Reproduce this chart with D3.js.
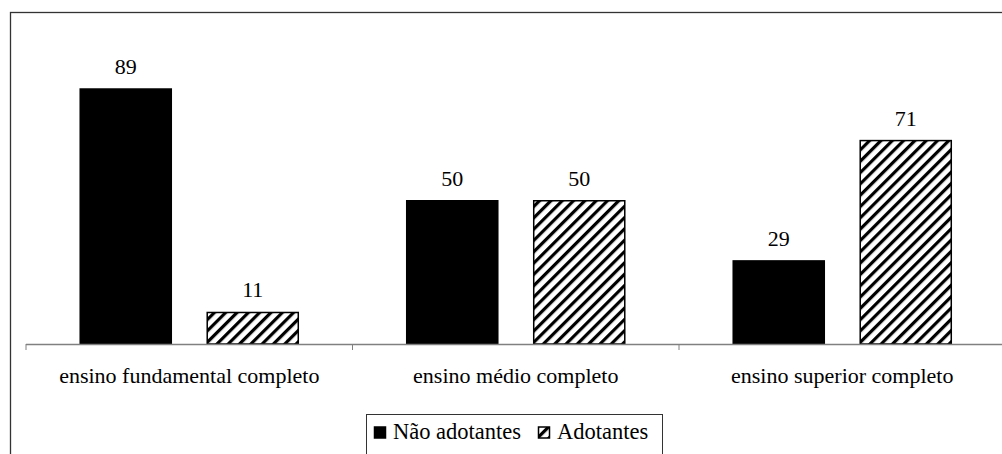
<!DOCTYPE html>
<html>
<head>
<meta charset="utf-8">
<script src="https://cdn.jsdelivr.net/npm/d3@7"></script>
<style>
  body { margin: 0; background: #fff; }
  svg { display: block; }
</style>
</head>
<body>
<div id="chart"></div>
<script>
    // data
    var categories = [ 'ensino fundamental completo', 'ensino médio completo', 'ensino superior completo' ];
    var seriesNames = [ 'Não adotantes', 'Adotantes' ];
    var naoAdotantes = [ 89, 50, 29 ];
    var adotantes = [ 11, 50, 71 ];

    var FONT = '"Liberation Serif"';

    var width = 1002, height = 454;
    var margin = { left: 26, right: -3.5, top: 57.5, bottom: 110 };
    var plotW = width - margin.left - margin.right,
        plotH = height - margin.top - margin.bottom;

    var svg = d3.select('#chart').append('svg')
        .attr('width', width)
        .attr('height', height);

    // hatch pattern
    var defs = svg.append('defs');
    var pat = defs.append('pattern')
        .attr('id', 'hatch')
        .attr('patternUnits', 'userSpaceOnUse')
        .attr('width', 8)
        .attr('height', 8)
        .attr('patternTransform', 'rotate(45)');
    pat.append('rect').attr('width', 8).attr('height', 8).attr('fill', '#fff');
    pat.append('rect').attr('x', 0).attr('width', 3.2).attr('height', 8).attr('fill', '#000');

    // outer frame
    svg.append('rect')
        .attr('x', 10.5).attr('y', 12.5)
        .attr('width', 1000).attr('height', 460)
        .attr('fill', 'none')
        .attr('stroke', '#333')
        .attr('stroke-width', 1.3);

    var g = svg.append('g')
        .attr('transform', 'translate(' + margin.left + ',' + margin.top + ')');

    var x0 = d3.scaleBand()
        .domain(categories)
        .range([0, plotW]);

    var x1 = d3.scaleBand()
        .domain(seriesNames)
        .range([0, x0.bandwidth()])
        .paddingInner(0.283)
        .paddingOuter(0.427);

    var y = d3.scaleLinear()
        .domain([0, 100])
        .range([plotH, 0]);

    var rows = categories.map(function(c, i) {
        return { cat: c, values: [
            { key: seriesNames[0], value: naoAdotantes[i] },
            { key: seriesNames[1], value: adotantes[i] }
        ] };
    });

    var groups = g.selectAll('.grp')
        .data(rows)
        .enter().append('g')
            .attr('class', 'grp')
            .attr('transform', function(d) { return 'translate(' + x0(d.cat) + ',0)'; });

    groups.selectAll('rect')
        .data(function(d) { return d.values; })
        .enter().append('rect')
            .attr('x', function(d) { return x1(d.key); })
            .attr('width', x1.bandwidth())
            .attr('y', function(d) { return y(d.value); })
            .attr('height', function(d) { return plotH - y(d.value); })
            .attr('fill', function(d) { return d.key === seriesNames[0] ? '#000' : 'url(#hatch)'; })
            .attr('stroke', '#000')
            .attr('stroke-width', 1.5);

    groups.selectAll('.val')
        .data(function(d) { return d.values; })
        .enter().append('text')
            .attr('class', 'val')
            .attr('x', function(d) { return x1(d.key) + x1.bandwidth() / 2; })
            .attr('y', function(d) { return y(d.value) - 15; })
            .attr('text-anchor', 'middle')
            .style('font-family', FONT)
            .style('font-size', '22px')
            .text(function(d) { return d.value; });

    // x axis
    var xAxis = g.append('g')
        .attr('transform', 'translate(0,' + plotH + ')')
        .call(d3.axisBottom(x0).tickSize(0).tickPadding(0));
    xAxis.select('.domain').remove();
    xAxis.selectAll('text')
        .attr('dy', null)
        .attr('y', 39)
        .style('font-family', FONT)
        .style('font-size', '22px')
        .attr('fill', '#000');

    g.append('line')
        .attr('x1', 0).attr('x2', plotW)
        .attr('y1', plotH + 0.5).attr('y2', plotH + 0.5)
        .attr('stroke', '#808080').attr('stroke-width', 1.5);

    g.selectAll('.sep')
        .data(d3.range(categories.length + 1))
        .enter().append('line')
            .attr('class', 'sep')
            .attr('x1', function(i) { return i * x0.step(); })
            .attr('x2', function(i) { return i * x0.step(); })
            .attr('y1', plotH)
            .attr('y2', plotH + 6)
            .attr('stroke', '#808080');

    // legend
    var leg = svg.append('g').attr('transform', 'translate(366.5,414.5)');
    leg.append('rect')
        .attr('width', 296).attr('height', 50)
        .attr('fill', '#fff')
        .attr('stroke', '#333');

    var items = [ { name: seriesNames[0], x: 8, fill: '#000' }, { name: seriesNames[1], x: 172, fill: 'url(#hatch)' } ];
    items.forEach(function(it) {
        leg.append('rect')
            .attr('x', it.x).attr('y', 12.5)
            .attr('width', 11).attr('height', 11)
            .attr('fill', it.fill)
            .attr('stroke', '#000').attr('stroke-width', 1.5);
        leg.append('text')
            .attr('x', it.x + 18.5).attr('y', 24)
            .style('font-family', FONT)
            .style('font-size', '22.5px')
            .text(it.name);
    });
</script>
</body>
</html>
